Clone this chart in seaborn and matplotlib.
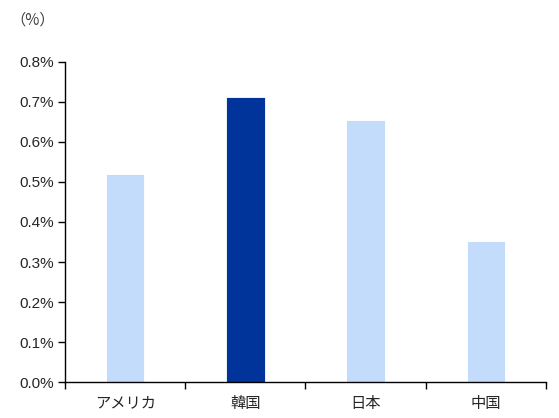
import pandas as pd
import seaborn as sns
import matplotlib.pyplot as plt
from matplotlib.ticker import FuncFormatter, FixedLocator

countries = ['アメリカ', '韓国', '日本', '中国']
values = [0.52, 0.713, 0.655, 0.353]
bar_colors = ['#C4DCFC', '#00349A', '#C4DCFC', '#C4DCFC']

df = pd.DataFrame({'country': countries, 'value': values})

sns.set_style('white')
plt.rcParams['font.family'] = ['Liberation Sans', 'Noto Sans CJK JP', 'DejaVu Sans']

fig = plt.figure(figsize=(5.59, 4.18), dpi=100)
ax = fig.add_axes([0.1163, 0.0861, 0.8604, 0.7656])

sns.barplot(data=df, x='country', y='value', hue='country', palette=bar_colors,
            width=0.32, legend=False, ax=ax, saturation=1, edgecolor='white', linewidth=0.6)

ax.set_ylim(0, 0.8)
ax.set_xlim(-0.5, 3.5)
ax.set_yticks([i / 10 for i in range(9)])
ax.yaxis.set_major_formatter(FuncFormatter(lambda v, p: f'{v:.1f}%'))

# ticks between categories
ax.xaxis.set_minor_locator(FixedLocator([-0.5, 0.5, 1.5, 2.5, 3.5]))
ax.tick_params(axis='x', which='major', bottom=True, length=0, pad=9, labelsize=11)
ax.tick_params(axis='x', which='minor', bottom=True, length=5, width=1, color='black', direction='out')
ax.tick_params(axis='y', left=True, length=5, width=1, color='black', direction='out', labelsize=11, pad=3)
for lab in ax.get_xticklabels():
    lab.set_family(['Noto Sans CJK JP', 'DejaVu Sans'])

for s in ['top', 'right']:
    ax.spines[s].set_visible(False)
for s in ['left', 'bottom']:
    ax.spines[s].set_color('black')
    ax.spines[s].set_linewidth(1)

ax.set_xlabel('')
ax.set_ylabel('')
fig.text(0.018, 0.952, '（%）', fontsize=11, color='#404040',
         family=['Noto Sans CJK JP', 'DejaVu Sans'], va='center')

fig.savefig('out.png', dpi=100)
